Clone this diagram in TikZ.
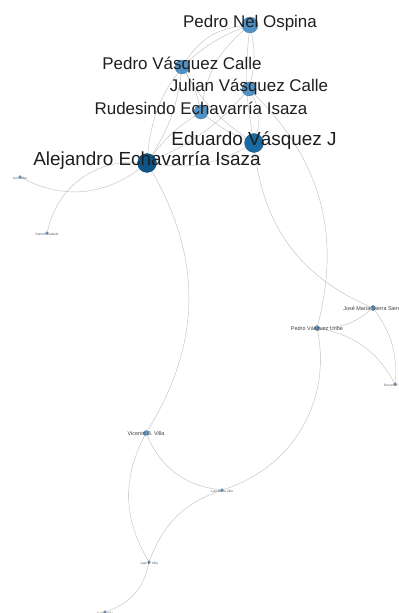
\documentclass[tikz,border=0pt]{standalone}
\usepackage{fontspec}
\setmainfont{Liberation Sans}
\pgfdeclarelayer{bg}
\pgfsetlayers{bg,main}
\definecolor{midblue}{HTML}{5291C4}
\definecolor{darkblue}{HTML}{1D6AA2}
\definecolor{darkerblue}{HTML}{0D5586}
\definecolor{smallblue}{HTML}{6FA0CF}
\definecolor{edgegray}{HTML}{BEBEBE}
\definecolor{txt}{HTML}{1E1E1E}
\begin{document}
\begin{tikzpicture}[x=1bp,y=-1bp,
  vtx/.style={circle,inner sep=0pt,line width=0.3bp},
  vmid/.style={vtx,fill=midblue,draw=midblue!85!black,minimum size=14bp},
  vbig/.style={vtx,fill=darkblue,draw=darkblue!85!black,minimum size=19bp},
  vsml/.style={vtx,fill=smallblue,draw=smallblue!70!black,minimum size=5bp},
  vdot/.style={vtx,fill=smallblue,draw=smallblue!60!black,minimum size=3bp},
  lab/.style={text=txt,inner sep=0pt,text height=0.72em,text depth=0.2em},
  lbbig/.style={lab,font=\fontsize{19}{19}\selectfont},
  lbmid/.style={lab,font=\fontsize{17}{17}\selectfont},
  lbsml/.style={lab,text=txt!85,font=\fontsize{5.5}{5.5}\selectfont},
  lbtny/.style={lab,text=txt!75,font=\fontsize{3.2}{3.2}\selectfont},
  lnk/.style={draw=edgegray,line width=0.4bp}
]
\useasboundingbox (0,0) rectangle (398,613);

% vertices
\node[vmid,minimum size=16bp] (PNO) at (250,25) {};
\node[vmid] (PVC) at (182,67) {};
\node[vmid] (JUL) at (249,89) {};
\node[vmid] (RUD) at (201,112) {};
\node[vbig] (EDU) at (254,143) {};
\node[vbig,fill=darkerblue,draw=darkerblue!85!black] (ALE) at (147,163) {};
\node[vdot] (LUI) at (20,177) {};
\node[vdot] (RAM) at (47,233) {};
\node[vsml] (JMS) at (373,308) {};
\node[vsml] (PVU) at (317,328) {};
\node[vdot] (FER) at (395,384) {};
\node[vsml] (VIC) at (146,433) {};
\node[vdot] (TA) at (222,490) {};
\node[vdot] (TB) at (149,562) {};
\node[vdot] (TC) at (105,612) {};

% edges
\begin{pgfonlayer}{bg}
\fill[white] (0,0) rectangle (398,613);
\draw[lnk] (PNO) to[bend right=25] (PVC);
\draw[lnk] (PNO) to[bend right=20] (RUD);
\draw[lnk] (PNO) to[bend right=32] (ALE);
\draw[lnk] (PNO) to[bend left=12] (JUL);
\draw[lnk] (PNO) to[bend right=8] (EDU);
\draw[lnk] (PVC) to[bend left=10] (RUD);
\draw[lnk] (PVC) to[bend right=12] (EDU);
\draw[lnk] (PVC) to[bend left=12] (ALE);
\draw[lnk] (RUD) to[bend right=8] (EDU);
\draw[lnk] (RUD) to[bend right=10] (ALE);
\draw[lnk] (JUL) to[bend left=22] (EDU);
\draw[lnk] (JUL) to[bend left=12] (ALE);
\draw[lnk] (ALE) to[bend right=18] (EDU);
\draw[lnk] (LUI) to[bend right=32] (ALE);
\draw[lnk] (RAM) to[bend left=40] (ALE);
\draw[lnk] (ALE) to[bend left=31] (VIC);
\draw[lnk] (EDU) to[bend right=30] (JMS);
\draw[lnk] (JUL) to[bend left=30] (PVU);
\draw[lnk] (JMS) to[bend left=20] (PVU);
\draw[lnk] (JMS) to[bend left=20] (FER);
\draw[lnk] (PVU) to[bend left=25] (FER);
\draw[lnk] (PVU) to[bend left=42] (TA);
\draw[lnk] (VIC) to[bend right=30] (TA);
\draw[lnk] (VIC) to[bend right=29] (TB);
\draw[lnk] (TA) to[bend right=25] (TB);
\draw[lnk] (TB) to[bend left=30] (TC);
\end{pgfonlayer}

% labels
\node[lbmid] (tPNO) at (PNO) {Pedro Nel Ospina};
\node[lbmid] (tPVC) at (PVC) {Pedro Vásquez Calle};
\node[lbmid] (tJUL) at (JUL) {Julian Vásquez Calle};
\node[lbmid] (tRUD) at (RUD) {Rudesindo Echavarría Isaza};
\node[lbbig] (tEDU) at (EDU) {Eduardo Vásquez J};
\node[lbbig] (tALE) at (ALE) {Alejandro Echavarría Isaza};
\node[lbtny] (tLUI) at (LUI) {Luis Uribe};
\node[lbtny] (tRAM) at (RAM) {Ramón Cadavid};
\node[lbsml] (tJMS) at (JMS) {José María Sierra Sierra};
\node[lbsml] (tPVU) at (PVU) {Pedro Vásquez Uribe};
\node[lbtny] (tFER) at (FER) {Fernando Vélez};
\node[lbsml] (tVIC) at (VIC) {Vicente B. Villa};
\node[lbtny] (tTA) at (TA) {Luis María Villa};
\node[lbtny] (tTB) at (TB) {Juan B. Villa};
\node[lbtny] (tTC) at (TC) {Carlos Villa};
\end{tikzpicture}
\end{document}
